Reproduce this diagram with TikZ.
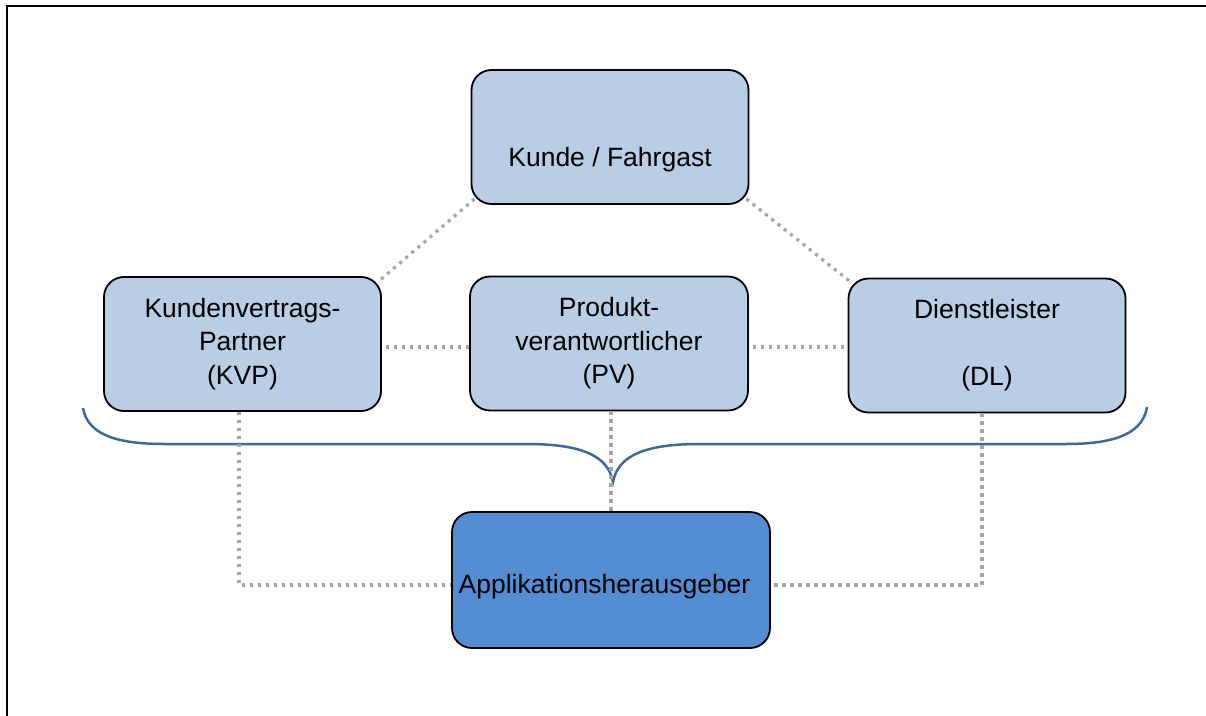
\documentclass[tikz,border=0pt]{standalone}
\usepackage{fontspec}
\setmainfont{Liberation Sans}
\usetikzlibrary{calc}
\definecolor{lightbox}{RGB}{185,205,229}
\definecolor{darkbox}{RGB}{84,141,212}
\definecolor{bracecol}{RGB}{65,104,155}
\definecolor{dotgray}{RGB}{165,165,165}
\begin{document}
\begin{tikzpicture}[x=1pt,y=-1pt,
  box/.style={draw=black, line width=1.8pt, rounded corners=20pt, fill=lightbox,
    minimum width=277pt, minimum height=134pt, align=center, inner sep=0pt,
    font=\fontsize{26.5}{33.5}\selectfont},
  dotline/.style={draw=dotgray, line width=3.2pt, dash pattern=on 3.2pt off 4.8pt},
  bracestyle/.style={draw=bracecol, line width=2.5pt}]
\useasboundingbox (0,0) rectangle (1206,715);
\fill[white] (0,0) rectangle (1206,715);
% frame
\draw[line width=2.5pt] (7,720) -- (7,6) -- (1210,6);
% nodes
\node[box] (kunde) at (610,137) {\raisebox{-29.5pt}[0pt][0pt]{Kunde / Fahrgast}};
\node[box] (kvp) at (242.5,344) {Kundenvertrags-\\Partner\\(KVP)};
\node[box, minimum width=278pt] (pv) at (609,343.5) {Produkt-\\verantwortlicher\\(PV)};
\node[box] (dl) at (987,345.5) {Dienstleister\\\mbox{}\\(DL)};
\node[box, fill=darkbox, minimum width=318pt, minimum height=136pt] (app) at (611,580) {\hspace*{-13pt}\raisebox{-13pt}[0pt][0pt]{Applikationsherausgeber}};
% brace
\draw[bracestyle] (83,408) .. controls (88,438) and (125,444) .. (165,444)
  -- (527,444) .. controls (580,444) and (608,455) .. (613,482)
  .. controls (618,455) and (646,444) .. (700,444)
  -- (1065,444) .. controls (1105,444) and (1142,438) .. (1147,407);
% dotted connectors
\draw[dotline] ($(kunde.south west)+(4,-6)$) -- ($(kvp.north east)+(-3,5)$);
\draw[dotline] ($(kunde.south east)+(-3,-6)$) -- ($(dl.north east)+(-275,5)$);
\draw[dotline] ($(kvp.east)+(4,3)$) coordinate (a1) -- (a1 -| pv.west);
\draw[dotline] ($(pv.east)+(4,3.5)$) coordinate (a2) -- (a2 -| dl.west);
\draw[dotline] ($(kvp.south)+(-3.5,0)$) coordinate (b1) -- (b1 |- {$(app.west)+(0,5)$}) coordinate (b2) -- (b2 -| app.west);
\draw[dotline] ($(dl.south)+(-5,0)$) coordinate (c1) -- (c1 |- {$(app.east)+(0,5)$}) coordinate (c2) -- (c2 -| app.east);
\draw[dotline] (pv.south -| app.north) -- (app.north);
\end{tikzpicture}
\end{document}
